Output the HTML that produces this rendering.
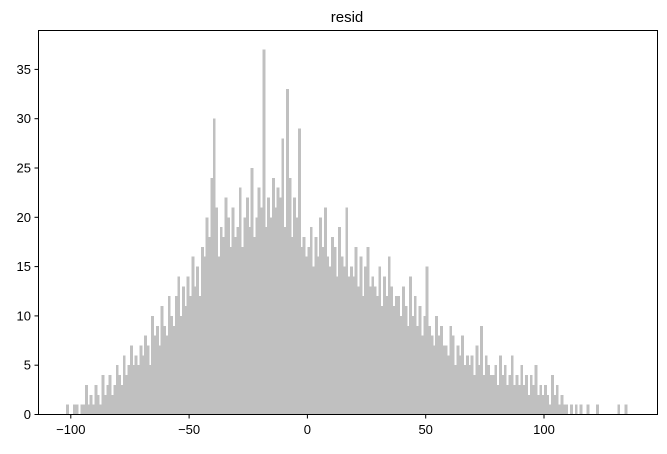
<!DOCTYPE html>
<html><head><meta charset="utf-8"><style>
body{margin:0;background:#fff;}
svg text{font-family:"Liberation Sans",sans-serif;font-size:13px;fill:#000;}
</style></head><body>
<svg id="chart" width="667" height="449">
<text x="347" y="22" text-anchor="middle" style="font-size:15px">resid</text>
<g id="bars"></g>
<g id="axes"></g>
<rect x="38.5" y="30.5" width="619" height="384" fill="none" stroke="#000" stroke-width="1"/>
</svg>
<script>
const binStart = -102;
const binWidth = 1;
const counts = [
1,0,0,1,1,0,1,1,3,1,
2,1,3,2,1,4,2,3,4,2,
3,5,4,3,6,4,5,7,5,6,
5,7,6,8,7,5,10,8,9,7,
11,9,8,12,10,9,12,14,10,13,
11,14,12,16,13,15,12,17,16,20,
18,24,30,21,16,19,18,22,20,17,
21,18,19,23,17,20,22,19,25,18,
20,23,21,37,19,22,20,24,21,23,
22,28,19,33,24,18,22,20,29,17,
18,16,17,19,15,18,16,20,17,21,
16,15,18,17,14,19,16,15,21,14,
15,14,17,13,16,12,15,17,13,14,
13,12,15,11,14,12,16,13,11,12,
12,10,13,11,9,14,10,12,9,11,
8,10,15,9,8,7,10,8,9,7,
7,6,9,8,5,7,6,8,5,6,
5,6,4,7,5,9,4,6,5,4,
4,5,3,6,4,5,3,4,6,3,
4,3,5,3,4,2,4,3,5,2,
3,2,3,2,1,4,2,3,1,2,
1,1,0,1,0,1,0,1,0,0,
1,0,0,0,1,0,0,0,0,0,
0,0,0,1,0,0,1];
const xTicks = [-100,-50,0,50,100];
const yTicks = [0,5,10,15,20,25,30,35];

const NS="http://www.w3.org/2000/svg";
const X = v => 307.4 + v*2.366;
const Y = v => 414.5 - v*9.86;
const bars=document.getElementById('bars');
counts.forEach((c,i)=>{
  if(c<=0) return;
  const x0=X(binStart+i*binWidth), x1=X(binStart+(i+1)*binWidth);
  const r=document.createElementNS(NS,'rect');
  r.setAttribute('x',x0);r.setAttribute('width',x1-x0+0.5);
  r.setAttribute('y',Y(c));r.setAttribute('height',Y(0)-Y(c));
  r.setAttribute('fill','#c0c0c0');
  r.setAttribute('shape-rendering','crispEdges');
  
  
  bars.appendChild(r);
});
const axes=document.getElementById('axes');
xTicks.forEach(t=>{
  const l=document.createElementNS(NS,'line');
  l.setAttribute('x1',X(t));l.setAttribute('x2',X(t));l.setAttribute('y1',414.5);l.setAttribute('y2',418.5);l.setAttribute('stroke','#000');
  
  
  axes.appendChild(l);
  const tx=document.createElementNS(NS,'text');
  tx.setAttribute('x',X(t));tx.setAttribute('y',434);tx.setAttribute('text-anchor','middle');
  tx.textContent=t<0?'\u2212'+(-t):t;
  
  
  axes.appendChild(tx);
});
yTicks.forEach(t=>{
  const l=document.createElementNS(NS,'line');
  l.setAttribute('x1',34.5);l.setAttribute('x2',38.5);l.setAttribute('y1',Y(t));l.setAttribute('y2',Y(t));l.setAttribute('stroke','#000');
  
  
  axes.appendChild(l);
  const tx=document.createElementNS(NS,'text');
  tx.setAttribute('x',31);tx.setAttribute('y',Y(t)+4.5);tx.setAttribute('text-anchor','end');
  tx.textContent=t;
  
  
  axes.appendChild(tx);
});
</script>
</body></html>
